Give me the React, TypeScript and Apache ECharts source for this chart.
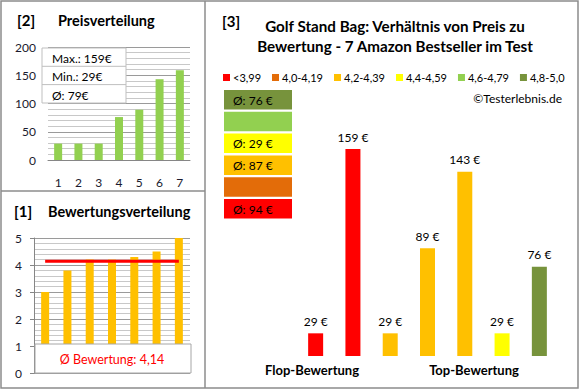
import React, { useEffect, useRef } from 'react';
import * as echarts from 'echarts';

const priceCats = ['1', '2', '3', '4', '5', '6', '7'];
const priceValues = [29, 29, 29, 76, 89, 143, 159];
const priceStats = ['Max.: 159€', 'Min.: 29€', 'Ø: 79€'];
const ratingValues = [3.0, 3.8, 4.2, 4.2, 4.3, 4.5, 5.0];
const ratingAvg = 4.14;
const ratingAvgLabel = 'Ø Bewertung: 4,14';
const classNames = ['<3,99', '4,0-4,19', '4,2-4,39', '4,4-4,59', '4,6-4,79', '4,8-5,0'];
const classColors = ['#FF0000', '#E36C09', '#FFC000', '#FFFF00', '#92D050', '#77933C'];
const classAvgLabels = ['Ø: 94 €', '', 'Ø: 87 €', 'Ø: 29 €', '', 'Ø: 76 €'];
const productClass = [0, 0, 2, 2, 2, 3, 5];
const productPrices = [29, 159, 29, 89, 143, 29, 76];
const groupLabels = ['Flop-Bewertung', 'Top-Bewertung'];
const titleLines = ['Golf Stand Bag: Verhältnis von Preis zu', 'Bewertung - 7 Amazon Bestseller im Test'];

const FONT = 'Lato, "Noto Sans", sans-serif';

export default function App() {
  const ref = useRef<HTMLDivElement>(null);
  useEffect(() => {
    const chart = echarts.init(ref.current!, null, { renderer: 'svg' });
    const graphics: any[] = [];
    // frames
    graphics.push({ type: 'rect', shape: { x: 1, y: 1, width: 577, height: 387 }, style: { fill: 'none', stroke: '#8c8c8c', lineWidth: 1.5 }, z: 100 });
    graphics.push({ type: 'line', shape: { x1: 205, y1: 1, x2: 205, y2: 388 }, style: { stroke: '#8c8c8c', lineWidth: 1.5 }, z: 100 });
    graphics.push({ type: 'line', shape: { x1: 1, y1: 191, x2: 205, y2: 191 }, style: { stroke: '#8c8c8c', lineWidth: 1.5 }, z: 100 });
    // titles
    const titleStyle = { fontFamily: FONT, fontWeight: 'bold', fill: '#000' };
    graphics.push({ type: 'text', x: 17, y: 20, style: { ...titleStyle, text: '[2]', fontSize: 15, textVerticalAlign: 'middle' } });
    graphics.push({ type: 'text', x: 58, y: 20, style: { ...titleStyle, text: 'Preisverteilung', fontSize: 14.5, textVerticalAlign: 'middle' } });
    graphics.push({ type: 'text', x: 14, y: 211, style: { ...titleStyle, text: '[1]', fontSize: 15, textVerticalAlign: 'middle' } });
    graphics.push({ type: 'text', x: 48, y: 211, style: { ...titleStyle, text: 'Bewertungsverteilung', fontSize: 14.5, textVerticalAlign: 'middle' } });
    graphics.push({ type: 'text', x: 222, y: 21, style: { ...titleStyle, text: '[3]', fontSize: 15, textVerticalAlign: 'middle' } });
    titleLines.forEach((t, i) => {
      graphics.push({ type: 'text', x: 395, y: 26 + i * 20, style: { ...titleStyle, text: t, fontSize: 15.2, textAlign: 'center', textVerticalAlign: 'middle' } });
    });
    graphics.push({ type: 'text', x: 562, y: 98, style: { text: '©Testerlebnis.de', fontFamily: FONT, fontSize: 12, fill: '#000', textAlign: 'right', textVerticalAlign: 'middle' } });
    // price stats box
    graphics.push({ type: 'rect', shape: { x: 42, y: 48, width: 84, height: 55 }, style: { fill: '#fff', stroke: '#bfbfbf', lineWidth: 1 }, z: 50 });
    priceStats.forEach((s, i) => {
      if (i > 0) graphics.push({ type: 'line', shape: { x1: 42, y1: 48 + i * 18.3, x2: 126, y2: 48 + i * 18.3 }, style: { stroke: '#bfbfbf', lineWidth: 1 }, z: 51 });
      graphics.push({ type: 'text', x: 52, y: 58 + i * 18.5, z: 52, style: { text: s, fontFamily: FONT, fontSize: 12, fill: '#000', textVerticalAlign: 'middle' } });
    });
    // rating avg box
    graphics.push({ type: 'rect', shape: { x: 35, y: 344, width: 156, height: 29 }, style: { fill: '#fff', stroke: '#a6a6a6', lineWidth: 1 }, z: 50 });
    graphics.push({ type: 'text', x: 112, y: 359, z: 52, style: { text: ratingAvgLabel, fontFamily: FONT, fontSize: 12.5, fill: '#FF0000', textAlign: 'center', textVerticalAlign: 'middle' } });
    // class avg boxes
    classColors.forEach((c, i) => {
      const y = 199 - i * 21.8;
      graphics.push({ type: 'rect', shape: { x: 224, y, width: 68, height: 19.5 }, style: { fill: c } });
      if (classAvgLabels[i]) {
        graphics.push({ type: 'text', x: 233, y: y + 10, style: { text: classAvgLabels[i], fontFamily: FONT, fontSize: 12, fill: '#000', textVerticalAlign: 'middle' } });
      }
    });
    // group labels
    [312, 474].forEach((x, i) => {
      graphics.push({ type: 'text', x, y: 370, style: { ...titleStyle, text: groupLabels[i], fontSize: 13, textAlign: 'center', textVerticalAlign: 'middle' } });
    });

    const rightSeries = classNames.map((name, c) => ({
      name,
      type: 'bar',
      xAxisIndex: 2,
      yAxisIndex: 2,
      stack: 'prod',
      barWidth: 15,
      itemStyle: { color: classColors[c] },
      label: { show: true, position: 'top', distance: 6, formatter: '{c} €', fontFamily: FONT, fontSize: 12, color: '#000' },
      data: productPrices.map((p, i) => (productClass[i] === c ? p : '-')),
    }));

    chart.setOption({
      animation: false,
      textStyle: { fontFamily: FONT },
      legend: {
        data: classNames,
        left: 223,
        top: 72,
        width: 360,
        padding: 0,
        itemWidth: 7,
        itemHeight: 7,
        itemGap: 11,
        icon: 'rect',
        textStyle: { fontFamily: FONT, fontSize: 11, color: '#000', padding: [0, 0, 0, -2] },
      },
      grid: [
        { left: 48, right: 390, top: 47, bottom: 230 },
        { left: 34, right: 390, top: 238, bottom: 17 },
        { left: 297, right: 22, top: 91, bottom: 34 },
      ],
      xAxis: [
        {
          gridIndex: 0, type: 'category', data: priceCats,
          axisLine: { lineStyle: { color: '#868686' } }, axisTick: { show: false },
          axisLabel: { margin: 16, fontSize: 12, color: '#1a1a2e', fontFamily: FONT },
        },
        {
          gridIndex: 1, type: 'category', data: priceCats,
          axisLine: { show: false }, axisTick: { show: false }, axisLabel: { show: false },
        },
        {
          gridIndex: 2, type: 'category', data: productPrices.map((_, i) => String(i + 1)),
          axisLine: { show: false }, axisTick: { show: false }, axisLabel: { show: false },
        },
      ],
      yAxis: [
        {
          gridIndex: 0, type: 'value', min: 0, max: 200, interval: 50,
          axisLine: { show: false }, axisTick: { show: false },
          axisLabel: { margin: 12, fontSize: 12, color: '#1a1a2e', fontFamily: FONT },
          splitLine: { lineStyle: { color: '#9a9a9a' } },
          minorTick: { show: false, splitNumber: 5 },
          minorSplitLine: { show: true, lineStyle: { color: '#c8c8c8' } },
        },
        {
          gridIndex: 1, type: 'value', min: 0, max: 5, interval: 1,
          axisLine: { show: true, lineStyle: { color: '#868686' } }, axisTick: { show: true, length: 4, lineStyle: { color: '#868686' } },
          axisLabel: { margin: 12, fontSize: 12, color: '#1a1a2e', fontFamily: FONT },
          splitLine: { lineStyle: { color: '#9a9a9a' } },
          minorTick: { show: false, splitNumber: 5 },
          minorSplitLine: { show: true, lineStyle: { color: '#c8c8c8' } },
        },
        {
          gridIndex: 2, type: 'value', min: 13, max: 200, show: false,
          splitLine: { show: false },
        },
      ],
      series: [
        {
          type: 'bar', xAxisIndex: 0, yAxisIndex: 0, data: priceValues, barWidth: 8,
          itemStyle: { color: '#92D050' },
        },
        {
          type: 'bar', xAxisIndex: 1, yAxisIndex: 1, data: ratingValues, barWidth: 8,
          itemStyle: { color: '#FFC000' },
        },
        {
          type: 'line', xAxisIndex: 1, yAxisIndex: 1, data: ratingValues.map(() => ratingAvg),
          symbol: 'none', lineStyle: { color: '#FF0000', width: 3 }, z: 5,
        },
        ...rightSeries,
      ],
      graphic: graphics,
    });
    return () => chart.dispose();
  }, []);
  return <div ref={ref} style={{ position: 'fixed', left: 0, top: 0, width: 580, height: 390, background: '#fff' }} />;
}
